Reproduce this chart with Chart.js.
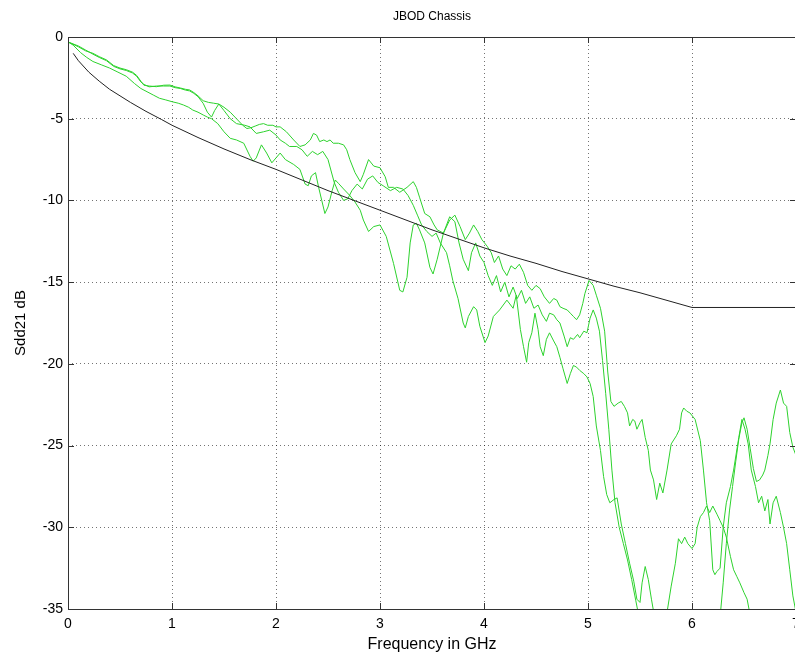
<!DOCTYPE html>
<html>
<head>
<meta charset="utf-8">
<title>JBOD Chassis</title>
<script src="https://cdn.jsdelivr.net/npm/chart.js@4/dist/chart.umd.min.js"></script>
<style>
    html, body { margin: 0; padding: 0; background: #fff; overflow: hidden; }
    canvas { display: block; }
</style>
</head>
<body>
<canvas id="sddChart" width="800" height="656"></canvas>
<script>
// Measured Sdd21 traces, [frequency GHz, dB]
var traceA = [
    [0, -0.3], [0.1, -0.6], [0.17, -0.85], [0.24, -1.0], [0.3, -1.2], [0.37, -1.4], [0.44, -1.75], [0.5, -1.9],
    [0.56, -2.0], [0.62, -2.15], [0.66, -2.35], [0.7, -2.7], [0.73, -2.95], [0.78, -3.0], [0.85, -3.04], [0.92, -2.95],
    [0.98, -2.94], [1.03, -3.05], [1.08, -3.12], [1.13, -3.2], [1.17, -3.24], [1.21, -3.4], [1.25, -3.6], [1.3, -3.9],
    [1.35, -4.0], [1.4, -4.05], [1.45, -4.1], [1.5, -4.3], [1.56, -4.6], [1.62, -5.0], [1.68, -5.4], [1.72, -5.6],
    [1.76, -5.55], [1.8, -5.45], [1.84, -5.35], [1.88, -5.3], [1.92, -5.4], [1.97, -5.4], [2.0, -5.5], [2.04, -5.5],
    [2.1, -5.8], [2.17, -6.3], [2.23, -6.7], [2.28, -6.6], [2.33, -6.3], [2.36, -5.9], [2.39, -6.0], [2.42, -6.4],
    [2.46, -6.3], [2.49, -6.4], [2.52, -6.3], [2.55, -6.5], [2.6, -6.5], [2.65, -6.6], [2.68, -6.9], [2.71, -7.5],
    [2.76, -8.3], [2.81, -8.85], [2.84, -8.4], [2.89, -7.5], [2.94, -7.9], [3.0, -8.0], [3.05, -8.55], [3.08, -9.2],
    [3.13, -9.2], [3.19, -9.5], [3.26, -9.2], [3.32, -8.85], [3.35, -9.2], [3.38, -9.8], [3.43, -10.8], [3.48, -11.0],
    [3.52, -11.5], [3.55, -11.8], [3.61, -12.0], [3.67, -11.2], [3.72, -10.9], [3.77, -11.6], [3.82, -12.4], [3.86, -12.0],
    [3.9, -11.5], [3.94, -11.9], [3.98, -12.4], [4.03, -12.8], [4.07, -13.2], [4.1, -13.8], [4.14, -13.4], [4.18, -14.2],
    [4.22, -14.6], [4.26, -14.0], [4.3, -14.2], [4.34, -13.9], [4.38, -14.4], [4.42, -15.2], [4.46, -15.5], [4.5, -15.2],
    [4.54, -15.4], [4.58, -15.9], [4.63, -16.3], [4.67, -16.0], [4.7, -16.1], [4.73, -16.5], [4.76, -16.6], [4.8, -16.7],
    [4.83, -16.9], [4.86, -17.1], [4.89, -17.3], [4.92, -17.0], [4.95, -16.3], [4.97, -15.7], [5.01, -14.9], [5.05, -15.2],
    [5.08, -15.8], [5.12, -16.6], [5.16, -18.0], [5.19, -20.5], [5.22, -22.3], [5.25, -22.6], [5.29, -22.4], [5.32, -22.3],
    [5.35, -22.6], [5.38, -23.0], [5.4, -23.8], [5.43, -23.4], [5.45, -23.5], [5.47, -24.0], [5.5, -23.6], [5.52, -23.4],
    [5.55, -24.5], [5.58, -25.3], [5.6, -26.5], [5.63, -27.1], [5.66, -28.3], [5.69, -27.3], [5.72, -27.9], [5.76, -26.5],
    [5.8, -24.9], [5.85, -24.4], [5.88, -24.0], [5.9, -23.0], [5.92, -22.7], [5.95, -22.9], [5.98, -23.0], [6.03, -23.4],
    [6.08, -24.7], [6.11, -26.5], [6.14, -28.5], [6.17, -29.6], [6.2, -32.6], [6.22, -32.9], [6.24, -32.7], [6.27, -32.5],
    [6.3, -30.0], [6.33, -28.5], [6.37, -27.5], [6.4, -26.5], [6.45, -24.5], [6.48, -23.4], [6.51, -24.0], [6.54, -24.9],
    [6.57, -26.5], [6.61, -27.5], [6.64, -28.5], [6.67, -28.1], [6.7, -29.0], [6.73, -28.3], [6.75, -29.8], [6.78, -28.5],
    [6.81, -28.1], [6.85, -29.1], [6.88, -30.0], [6.91, -31.0], [6.94, -32.6], [6.97, -34.2], [7.0, -35.2]
];

var traceB = [
    [0, -0.3], [0.1, -0.55], [0.17, -0.8], [0.24, -1.05], [0.3, -1.25], [0.37, -1.45], [0.44, -1.8], [0.5, -1.95],
    [0.56, -2.05], [0.62, -2.2], [0.66, -2.4], [0.7, -2.75], [0.73, -2.9], [0.78, -3.05], [0.85, -3.0], [0.92, -3.0],
    [0.98, -3.0], [1.03, -3.1], [1.08, -3.15], [1.13, -3.25], [1.17, -3.3], [1.21, -3.45], [1.25, -3.65], [1.3, -4.06],
    [1.34, -4.6], [1.38, -4.9], [1.41, -4.5], [1.45, -4.1], [1.5, -4.5], [1.56, -5.0], [1.62, -5.3], [1.7, -5.4],
    [1.75, -5.5], [1.81, -5.9], [1.88, -5.8], [1.94, -5.7], [2.0, -6.0], [2.04, -6.3], [2.09, -6.5], [2.13, -6.7],
    [2.2, -6.7], [2.25, -6.9], [2.3, -7.3], [2.35, -7.0], [2.4, -7.2], [2.45, -7.0], [2.5, -7.5], [2.53, -8.2],
    [2.56, -8.9], [2.6, -9.5], [2.65, -10.0], [2.69, -9.9], [2.73, -9.4], [2.78, -9.0], [2.83, -9.3], [2.88, -8.7],
    [2.93, -8.5], [2.98, -8.9], [3.03, -9.1], [3.1, -9.4], [3.16, -9.2], [3.22, -9.3], [3.27, -9.7], [3.32, -10.3],
    [3.36, -10.9], [3.4, -11.5], [3.45, -11.9], [3.5, -12.2], [3.54, -12.0], [3.58, -12.6], [3.64, -13.2], [3.67, -14.0],
    [3.7, -14.9], [3.75, -16.0], [3.8, -17.5], [3.82, -17.8], [3.85, -17.1], [3.9, -16.5], [3.93, -16.7], [3.96, -17.7],
    [4.01, -18.7], [4.04, -18.3], [4.09, -17.1], [4.15, -16.7], [4.22, -16.1], [4.28, -16.6], [4.31, -15.8], [4.35, -17.9],
    [4.38, -18.95], [4.41, -19.9], [4.43, -18.7], [4.46, -18.1], [4.49, -16.9], [4.52, -17.9], [4.54, -18.95], [4.57, -19.5],
    [4.6, -18.5], [4.63, -18.1], [4.67, -18.6], [4.7, -18.95], [4.73, -19.6], [4.76, -20.3], [4.8, -21.2], [4.83, -20.6],
    [4.86, -20.1], [4.89, -20.2], [4.92, -20.4], [4.96, -20.6], [4.99, -20.8], [5.02, -21.2], [5.05, -22.0], [5.08, -23.8],
    [5.12, -25.3], [5.15, -26.9], [5.18, -28.0], [5.21, -28.5], [5.25, -28.3], [5.28, -28.2], [5.32, -29.8], [5.36, -31.0],
    [5.4, -32.2], [5.44, -33.3], [5.47, -34.4], [5.5, -34.6], [5.52, -33.4], [5.55, -32.4], [5.58, -33.2], [5.61, -34.4],
    [5.64, -35.5], [5.7, -36.5], [5.76, -35.2], [5.8, -33.6], [5.84, -32.2], [5.87, -30.7], [5.9, -31.0], [5.93, -30.6],
    [5.96, -31.0], [6.0, -31.3], [6.03, -31.0], [6.05, -30.0], [6.08, -29.35], [6.11, -29.1], [6.14, -28.7], [6.17, -29.1],
    [6.2, -28.7], [6.24, -29.2], [6.27, -29.6], [6.3, -30.0], [6.33, -30.6], [6.37, -31.8], [6.4, -32.6], [6.43, -33.0],
    [6.46, -33.4], [6.5, -34.0], [6.53, -34.4], [6.56, -35.4], [6.6, -36.5]
];

var traceC = [
    [0, -0.3], [0.05, -0.5], [0.12, -0.95], [0.18, -1.25], [0.24, -1.5], [0.32, -1.7], [0.4, -1.9], [0.48, -2.15],
    [0.56, -2.4], [0.64, -2.85], [0.7, -3.15], [0.76, -3.35], [0.82, -3.55], [0.88, -3.75], [0.94, -3.85], [1.0, -3.96],
    [1.06, -4.05], [1.11, -4.16], [1.16, -4.3], [1.2, -4.47], [1.25, -4.6], [1.3, -4.77], [1.34, -4.9], [1.38, -5.0],
    [1.44, -5.3], [1.5, -5.8], [1.56, -6.2], [1.62, -6.3], [1.69, -6.5], [1.75, -7.3], [1.78, -7.6], [1.81, -7.4],
    [1.86, -6.6], [1.91, -7.1], [1.96, -7.7], [2.0, -7.4], [2.04, -7.1], [2.09, -7.5], [2.17, -7.8], [2.23, -8.1],
    [2.28, -9.0], [2.31, -9.1], [2.34, -8.5], [2.38, -8.3], [2.41, -9.2], [2.44, -10.0], [2.47, -10.8], [2.5, -10.4],
    [2.54, -9.4], [2.57, -8.75], [2.6, -8.95], [2.65, -9.3], [2.71, -9.7], [2.76, -10.1], [2.81, -10.6], [2.84, -11.2],
    [2.89, -11.9], [2.94, -11.6], [3.0, -11.5], [3.06, -12.2], [3.13, -13.85], [3.19, -15.5], [3.22, -15.6], [3.26, -14.7],
    [3.29, -12.6], [3.32, -11.5], [3.35, -11.4], [3.38, -11.8], [3.43, -12.6], [3.48, -14.1], [3.51, -14.5], [3.55, -13.6],
    [3.61, -12.0], [3.67, -11.0], [3.72, -11.3], [3.76, -12.6], [3.8, -13.6], [3.85, -14.3], [3.88, -13.2], [3.92, -12.6],
    [3.96, -13.4], [4.0, -13.8], [4.04, -14.6], [4.08, -15.2], [4.12, -14.6], [4.16, -15.6], [4.2, -15.0], [4.24, -15.9],
    [4.28, -15.3], [4.32, -16.0], [4.36, -15.5], [4.4, -16.3], [4.44, -15.9], [4.48, -16.6], [4.52, -16.4], [4.56, -17.0],
    [4.6, -17.4], [4.63, -16.9], [4.67, -17.0], [4.7, -17.3], [4.73, -17.5], [4.77, -18.3], [4.8, -18.95], [4.83, -18.4],
    [4.86, -18.5], [4.9, -18.2], [4.92, -18.4], [4.96, -18.0], [4.99, -18.1], [5.02, -17.2], [5.05, -16.7], [5.08, -17.2],
    [5.11, -18.0], [5.14, -19.8], [5.17, -21.8], [5.2, -24.0], [5.23, -26.5], [5.26, -28.5], [5.3, -30.0], [5.34, -31.0],
    [5.38, -32.0], [5.42, -33.2], [5.46, -34.5], [5.5, -35.8], [5.6, -37.0], [6.2, -37.0], [6.27, -35.5], [6.3, -33.4],
    [6.33, -31.0], [6.36, -29.0], [6.39, -27.5], [6.42, -26.0], [6.45, -24.6], [6.48, -23.6], [6.5, -23.3], [6.53, -24.0],
    [6.56, -25.2], [6.59, -26.4], [6.62, -27.2], [6.65, -27.1], [6.68, -26.8], [6.7, -26.5], [6.73, -25.6], [6.75, -24.9],
    [6.78, -23.4], [6.81, -22.4], [6.85, -21.6], [6.88, -22.4], [6.91, -22.6], [6.94, -24.2], [6.97, -25.1], [7.0, -25.6]
];

// Spec limit line
var limitLine = [
    [0.05, -1.0], [0.1, -1.45], [0.2, -2.15], [0.3, -2.7], [0.4, -3.2], [0.5, -3.6], [0.6, -4.0], [0.75, -4.55],
    [0.9, -5.05], [1.0, -5.4], [1.25, -6.15], [1.5, -6.85], [1.75, -7.5], [2.0, -8.1], [2.25, -8.75], [2.5, -9.4],
    [2.75, -10.0], [3.0, -10.6], [3.25, -11.2], [3.5, -11.8], [3.75, -12.35], [4.0, -12.9], [4.25, -13.4], [4.5, -13.85],
    [4.75, -14.35], [5.0, -14.8], [5.25, -15.25], [5.5, -15.65], [5.75, -16.1], [6.0, -16.55], [7.0, -16.55]
];

var xTicks = [0, 1, 2, 3, 4, 5, 6, 7];
var yTicks = [0, -5, -10, -15, -20, -25, -30, -35];

function toPoints(pairs) {
    return pairs.map(function(p) { return { x: p[0], y: p[1] }; });
}

var fontFamily = '"Liberation Sans", Arial, Helvetica, sans-serif';
var traceColor = 'rgb(45, 210, 45)';

// axis box and inward tick marks, like the original plot
var boxPlugin = {
    id: 'box',
    afterDraw: function(chart) {
        var ctx = chart.ctx;
        var a = chart.chartArea;
        var xs = chart.scales.x;
        var ys = chart.scales.y;
        ctx.save();
        ctx.strokeStyle = '#333';
        ctx.lineWidth = 1;
        ctx.beginPath();
        xs.ticks.forEach(function(t) {
            var px = Math.round(xs.getPixelForValue(t.value)) + 0.5;
            ctx.moveTo(px, a.bottom);
            ctx.lineTo(px, a.bottom - 6);
            ctx.moveTo(px, a.top);
            ctx.lineTo(px, a.top + 6);
        });
        ys.ticks.forEach(function(t) {
            var py = Math.round(ys.getPixelForValue(t.value)) + 0.5;
            ctx.moveTo(a.left, py);
            ctx.lineTo(a.left + 6, py);
            ctx.moveTo(a.right, py);
            ctx.lineTo(a.right - 6, py);
        });
        ctx.stroke();
        ctx.strokeRect(Math.round(a.left) + 0.5, Math.round(a.top) + 0.5,
            Math.round(a.right - a.left), Math.round(a.bottom - a.top));
        ctx.restore();
    }
};

var ctx = document.getElementById('sddChart').getContext('2d');
new Chart(ctx, {
    type: 'line',
    data: {
        datasets: [
            { label: 'Limit', data: toPoints(limitLine), borderColor: '#222' },
            { label: 'Trace A', data: toPoints(traceA), borderColor: traceColor },
            { label: 'Trace B', data: toPoints(traceB), borderColor: traceColor },
            { label: 'Trace C', data: toPoints(traceC), borderColor: traceColor }
        ]
    },
    options: {
        responsive: false,
        animation: false,
        layout: { padding: { right: 4 } },
        elements: {
            point: { radius: 0 },
            line: { borderWidth: 1, tension: 0 }
        },
        plugins: {
            legend: { display: false },
            tooltip: { enabled: false },
            title: {
                display: true,
                text: 'JBOD Chassis',
                fullSize: false,
                color: '#000',
                font: { family: fontFamily, size: 12, weight: 'normal' },
                padding: { top: 9, bottom: 13.6 }
            }
        },
        scales: {
            x: {
                type: 'linear',
                min: 0,
                max: 7,
                afterBuildTicks: function(scale) {
                    scale.ticks = xTicks.map(function(v) { return { value: v }; });
                },
                afterFit: function(scale) {
                    scale.height = 47;
                    // keep the last label from shrinking the plot area
                    scale.paddingLeft = 0;
                    scale.paddingRight = 0;
                },
                ticks: {
                    color: '#000',
                    font: { family: fontFamily, size: 14 },
                    padding: 7,
                    maxRotation: 0
                },
                grid: { color: 'rgba(0, 0, 0, 0.55)', drawTicks: false },
                border: { display: false, dash: [1, 3] },
                title: {
                    display: true,
                    text: 'Frequency in GHz',
                    color: '#000',
                    font: { family: fontFamily, size: 16 },
                    padding: { top: 0, bottom: 2 }
                }
            },
            y: {
                min: -35,
                max: 0,
                afterBuildTicks: function(scale) {
                    scale.ticks = yTicks.map(function(v) { return { value: v }; });
                },
                afterFit: function(scale) { scale.width = 68; },
                ticks: {
                    color: '#000',
                    font: { family: fontFamily, size: 14 },
                    padding: 5
                },
                grid: { color: 'rgba(0, 0, 0, 0.55)', drawTicks: false },
                border: { display: false, dash: [1, 3] },
                title: {
                    display: true,
                    text: 'Sdd21 dB',
                    color: '#000',
                    font: { family: fontFamily, size: 15 },
                    padding: { top: 12, bottom: 0 }
                }
            }
        }
    },
    plugins: [boxPlugin]
});
</script>
</body>
</html>
